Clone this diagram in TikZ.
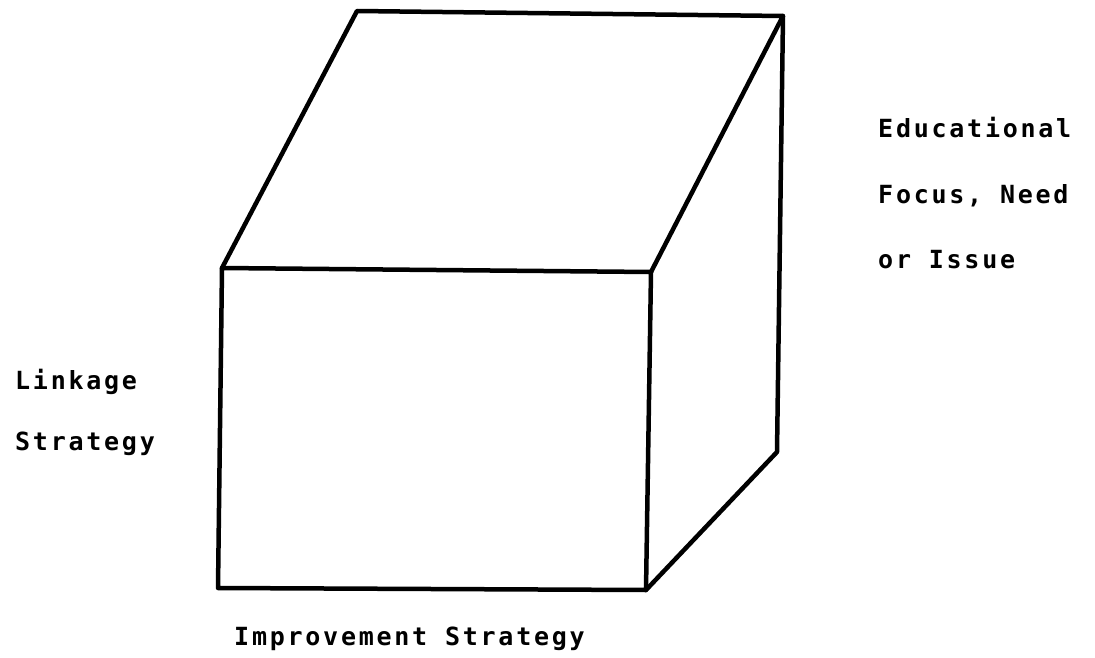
\documentclass[tikz,border=0pt]{standalone}
\usepackage{fontspec}
\setmonofont[LetterSpace=11]{DejaVu Sans Mono}
\usetikzlibrary{positioning, calc}

\begin{document}
\begin{tikzpicture}[x=1pt, y=-1pt,
  edge/.style={line width=4.5pt, line join=round, line cap=round},
  lbl/.style={anchor=base west, inner sep=0pt, font=\fontsize{25}{25}\selectfont\ttfamily\bfseries}]
  \useasboundingbox (0,0) rectangle (1095,658);
  % corners of the cube
  \coordinate (ftl) at (222,268);
  \coordinate (ftr) at (651,272);
  \coordinate (fbr) at (646,590);
  \coordinate (fbl) at (218,588);
  \coordinate (btl) at (357,11);
  \coordinate (btr) at (783,16);
  \coordinate (bbr) at (777,452);
  \draw[edge] (ftl)--(ftr)--(fbr)--(fbl)--cycle;
  \draw[edge] (ftl)--(btl)--(btr)--(ftr);
  \draw[edge] (btr)--(bbr)--(fbr);
  % labels
  \node[lbl] (edu) at (878,138){Educational};
  \node[lbl] (foc) at (878,203){Focus, Need};
  \node[lbl] (iss) at (878,268){or Issue};
  \node[lbl] (link) at (15,389){Linkage};
  \node[lbl] (lstr) at (15,450){Strategy};
  \node[lbl] (impr) at (234,645){Improvement Strategy};
\end{tikzpicture}
\end{document}
